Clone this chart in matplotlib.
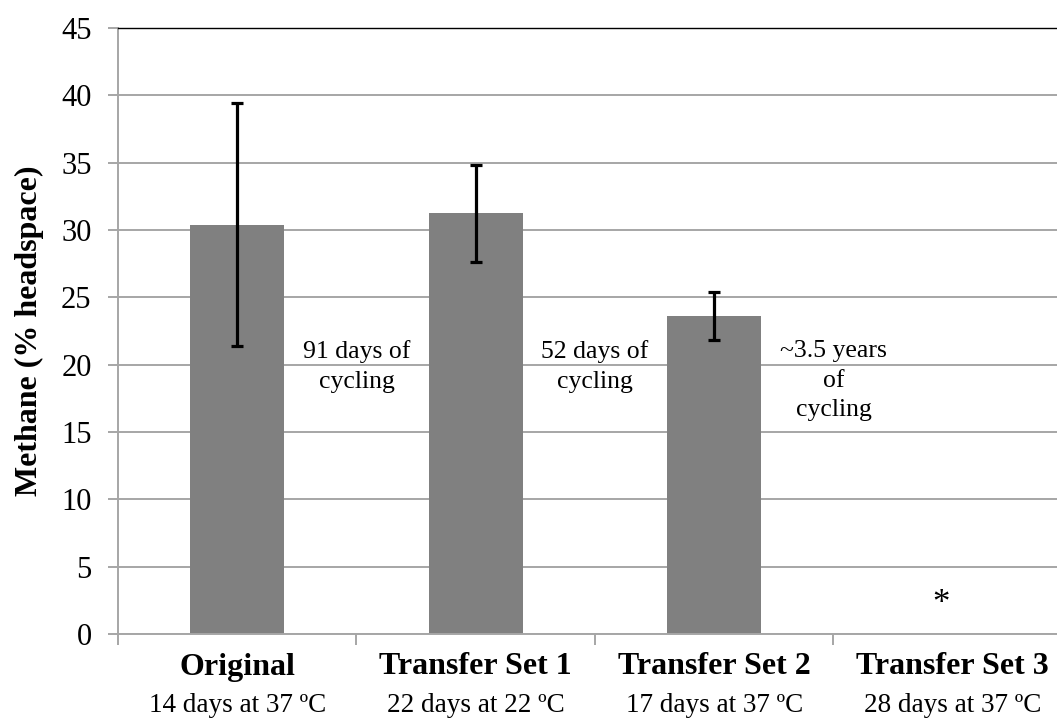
import matplotlib
matplotlib.use("Agg")
import matplotlib.pyplot as plt
import matplotlib.transforms as mtransforms

plt.rcParams["font.family"] = ["Liberation Serif", "DejaVu Serif"]

categories = ["Original", "Transfer Set 1", "Transfer Set 2", "Transfer Set 3"]
conditions = ["14 days at 37 ºC", "22 days at 22 ºC", "17 days at 37 ºC", "28 days at 37 ºC"]
methane = [30.4, 31.25, 23.6, 0.0]
methane_err = [9.05, 3.6, 1.8, 0.0]
cycling_notes = ["91 days of\ncycling", "52 days of\ncycling", "~3.5 years\nof\ncycling"]
yticks = list(range(0, 50, 5))

GRID = "#a6a6a6"
BAR = "#808080"

fig = plt.figure(figsize=(10.57, 7.25), dpi=100)
ax = fig.add_axes([0.1116, 0.1255, 0.9026, 0.8359])

x = list(range(len(categories)))
ax.bar(x[:3], methane[:3], width=0.395, color=BAR, zorder=2)
ax.errorbar(x[:3], methane[:3], yerr=methane_err[:3], fmt="none", ecolor="black",
            elinewidth=2.3, capsize=4.5, capthick=2.3, zorder=3)

# no detectable methane in the last set
ax.text(2.95, 2.2, "*", ha="center", va="center", fontsize=25)

for i, note in enumerate(cycling_notes):
    ax.text(i + 0.5, 21.8, note, ha="center", va="top", fontsize=18.5, linespacing=1.42)

ax.set_xlim(-0.5, 3.5)
ax.set_ylim(0, 45)
ax.set_yticks(yticks)
ax.set_yticklabels([str(v) for v in yticks], fontsize=22)
ax.yaxis.grid(True, color=GRID, linewidth=1.4, zorder=0)
ax.set_axisbelow(True)
ax.tick_params(axis="y", length=7, width=1.4, color=GRID, pad=12)

ax.set_xticks(x)
ax.set_xticklabels([])
ax.tick_params(axis="x", which="major", length=0)
ax.set_xticks([-0.5, 0.5, 1.5, 2.5], minor=True)
ax.tick_params(axis="x", which="minor", length=8, width=1.4, color=GRID, direction="out")

trans = mtransforms.blended_transform_factory(ax.transData, fig.transFigure)
for i, (cat, cond) in enumerate(zip(categories, conditions)):
    ax.text(i, 1 - 667 / 725, cat, transform=trans, ha="center", va="center",
            fontsize=23, fontweight="bold")
    ax.text(i, 1 - 706 / 725, cond, transform=trans, ha="center", va="center",
            fontsize=19.5)

ax.set_ylabel("Methane (% headspace)", fontsize=23, fontweight="bold", labelpad=12)

for side in ("left", "bottom"):
    ax.spines[side].set_color(GRID)
    ax.spines[side].set_linewidth(1.4)
ax.spines["right"].set_visible(False)
ax.spines["top"].set_color("black")
ax.spines["top"].set_linewidth(1.0)

fig.savefig("out.png", dpi=100)
